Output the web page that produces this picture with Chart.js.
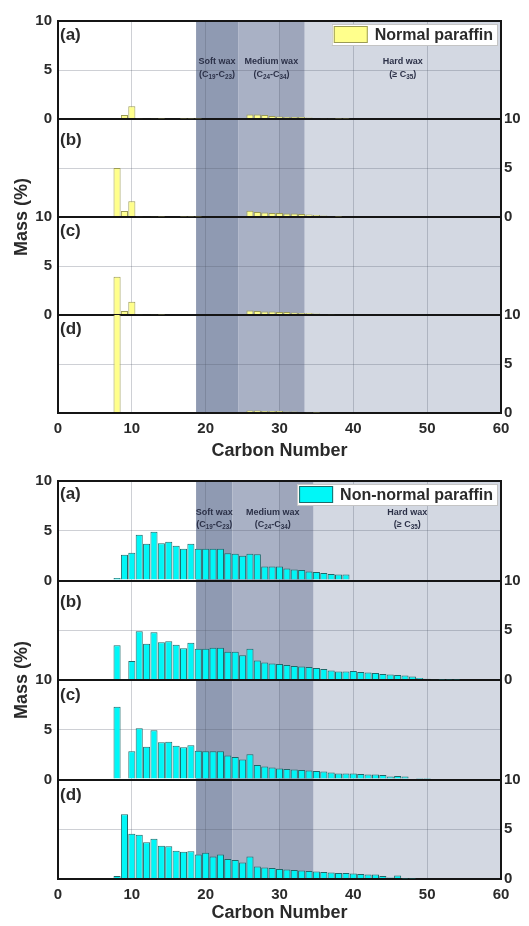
<!DOCTYPE html>
<html lang="en">
<head>
<meta charset="UTF-8">
<title>Normal / non-normal paraffin carbon number distribution</title>
<script src="https://cdn.jsdelivr.net/npm/chart.js"></script>
<style>
    body { margin: 0; background: #fff; }
    canvas { display: block; }
</style>
</head>
<body>
<canvas id="normalChart" width="529" height="463"></canvas>
<canvas id="nonNormalChart" width="529" height="463"></canvas>

<script>
    // carbon numbers, C8 .. C55
    const carbon = [8, 9, 10, 11, 12, 13, 14, 15, 16, 17, 18, 19, 20, 21, 22, 23, 24, 25, 26, 27,
        28, 29, 30, 31, 32, 33, 34, 35, 36, 37, 38, 39, 40, 41, 42, 43, 44, 45, 46, 47,
        48, 49, 50, 51, 52, 53, 54, 55];

    // normal paraffin, mass %, starting at C8
    const normalA = [null, 0.4, 1.3, 0.08, null, 0.08, 0.06, null, null, 0.06, 0.06, 0.05, null, null, null, null, null, null,
        0.45, 0.45, 0.4, 0.3, 0.25, 0.2, 0.2, 0.2, 0.15, 0.1, 0.08, 0.08, 0.05, 0.05];
    const normalB = [5.0, 0.6, 1.6, 0.08, null, 0.08, 0.06, null, null, 0.06, 0.06, 0.05, null, null, null, null, null, null,
        0.65, 0.5, 0.45, 0.4, 0.4, 0.35, 0.35, 0.3, 0.25, 0.2, 0.15, 0.1, 0.05];
    const normalC = [3.9, 0.4, 1.35, 0.08, null, 0.08, 0.06, null, null, null, null, null, null, null, null, null, null, null,
        0.45, 0.4, 0.35, 0.35, 0.3, 0.3, 0.25, 0.2, 0.2, 0.15, 0.1, 0.08];
    const normalD = [10.4, null, null, null, null, null, null, null, null, null, null, null, null, null, null, null, null, null,
        0.25, 0.25, 0.2, 0.2, 0.2, 0.15, 0.15, 0.1, 0.08, 0.05];

    // non-normal paraffin, mass %, starting at C8
    const nonNormalA = [0.25, 2.6, 2.8, 4.6, 3.7, 4.9, 3.75, 3.9, 3.5, 3.2, 3.7, 3.2, 3.2, 3.2, 3.2, 2.75, 2.7, 2.5, 2.7, 2.65,
        1.4, 1.4, 1.4, 1.2, 1.1, 1.05, 0.9, 0.85, 0.75, 0.65, 0.6, 0.6];
    const nonNormalB = [3.5, null, 1.9, 4.9, 3.65, 4.8, 3.8, 3.9, 3.55, 3.2, 3.75, 3.15, 3.15, 3.25, 3.25, 2.85, 2.85, 2.5, 3.15, 1.95,
        1.75, 1.65, 1.6, 1.5, 1.4, 1.35, 1.3, 1.2, 1.1, 0.95, 0.85, 0.85, 0.9, 0.8, 0.75, 0.7, 0.6, 0.55,
        0.5, 0.45, 0.35, 0.2, 0.12, 0.08, 0.06, 0.05, 0.05];
    const nonNormalC = [7.3, null, 2.85, 5.15, 3.3, 4.95, 3.75, 3.8, 3.4, 3.25, 3.45, 2.9, 2.85, 2.85, 2.85, 2.4, 2.25, 2.0, 2.55, 1.45,
        1.3, 1.2, 1.1, 1.05, 1.0, 0.95, 0.9, 0.85, 0.8, 0.7, 0.6, 0.6, 0.6, 0.55, 0.5, 0.5, 0.45, 0.3,
        0.35, 0.3, 0.1, 0.05, 0.05];
    const nonNormalD = [0.3, 6.5, 4.55, 4.45, 3.7, 4.05, 3.35, 3.3, 2.85, 2.75, 2.8, 2.45, 2.65, 2.25, 2.45, 2.0, 1.9, 1.65, 2.25, 1.25,
        1.15, 1.1, 1.0, 0.95, 0.9, 0.85, 0.8, 0.75, 0.7, 0.65, 0.6, 0.6, 0.55, 0.5, 0.45, 0.45, 0.3, 0.15,
        0.35, 0.05, 0.05];

    const panelLabels = ['(a)', '(b)', '(c)', '(d)'];
    const waxNames = ['Soft wax', 'Medium wax', 'Hard wax'];
    const waxRanges = ['(C{19}-C{23})', '(C{24}-C{34})', '(\u2265 C{35})'];
    // soft | medium | hard boundaries (carbon number)
    const normalWaxEdges = [18.7, 24.4, 33.4, 60];
    const nonNormalWaxEdges = [18.7, 23.6, 34.6, 60];

    const family = "'Liberation Sans', Arial, sans-serif";
    Chart.defaults.font.family = family;
    const ink = '#2a2a2a';

    function richText(ctx, str, cx, y, size) {
        const parts = str.split(/(\{[^}]*\})/).filter(Boolean).map(p =>
            p[0] === '{' ? { t: p.slice(1, -1), sub: true } : { t: p, sub: false });
        let w = 0;
        parts.forEach(p => {
            ctx.font = `bold ${p.sub ? size * 0.7 : size}px ${family}`;
            p.w = ctx.measureText(p.t).width;
            w += p.w;
        });
        let x = cx - w / 2;
        parts.forEach(p => {
            ctx.font = `bold ${p.sub ? size * 0.7 : size}px ${family}`;
            ctx.fillText(p.t, x, y + (p.sub ? size * 0.3 : 0));
            x += p.w;
        });
    }

    const paperPlugin = {
        id: 'paper',
        beforeDraw(chart, args, o) {
            const { ctx, chartArea: a, scales: { x } } = chart;
            const e = o.edges;
            const bands = [
                [e[0], e[1], '#8f9ab2'],
                [e[1], e[2], '#a9b1c5'],
                [30, e[2], '#9ea6bb'],
                [e[2], e[3], '#d3d8e2']
            ];
            ctx.save();
            bands.forEach(([from, to, color]) => {
                const x0 = x.getPixelForValue(from), x1 = x.getPixelForValue(to);
                ctx.fillStyle = color;
                ctx.fillRect(x0, a.top, x1 - x0, a.bottom - a.top);
            });
            ctx.restore();
        },
        afterDraw(chart, args, o) {
            const { ctx, chartArea: a, scales } = chart;
            const x = scales.x;
            const e = o.edges;
            ctx.save();
            ctx.fillStyle = ink;
            ctx.textBaseline = 'middle';

            // panel labels
            ctx.textAlign = 'left';
            ctx.font = `bold 17px ${family}`;
            ['ya', 'yb', 'yc', 'yd'].forEach((id, i) => {
                ctx.fillText(panelLabels[i], a.left + 2, scales[id].top + o.labelOffsets[i]);
            });

            // wax class notes in panel (a)
            ctx.fillStyle = '#2c3148';
            waxNames.forEach((name, i) => {
                const cx = x.getPixelForValue((e[i] + e[i + 1]) / 2);
                ctx.textAlign = 'center';
                ctx.font = `bold 9px ${family}`;
                ctx.fillText(name, cx, scales.ya.top + o.noteOffsets[0]);
                ctx.textAlign = 'left';
                richText(ctx, waxRanges[i], cx, scales.ya.top + o.noteOffsets[1], 9);
            });

            // legend box
            const ds = chart.data.datasets[0];
            ctx.font = `bold 16px ${family}`;
            const tw = ctx.measureText(ds.label).width;
            const bw = 2 + 34 + 7 + tw + 4, bh = 21;
            const bx = a.right - 4 - bw, by = a.top + 3;
            ctx.fillStyle = '#fff';
            ctx.fillRect(bx, by, bw, bh);
            ctx.strokeStyle = '#c4c4c4';
            ctx.lineWidth = 1;
            ctx.strokeRect(bx + 0.5, by + 0.5, bw, bh);
            ctx.fillStyle = ds.backgroundColor;
            ctx.fillRect(bx + 2, by + 2, 34, bh - 4);
            ctx.strokeStyle = ds.borderColor;
            ctx.strokeRect(bx + 2.5, by + 2.5, 33, bh - 5);
            ctx.fillStyle = ink;
            ctx.textAlign = 'left';
            ctx.fillText(ds.label, bx + 43, by + bh / 2 + 1);

            // y title
            ctx.translate(22, (a.top + a.bottom) / 2);
            ctx.rotate(-Math.PI / 2);
            ctx.textAlign = 'center';
            ctx.font = `bold 18px ${family}`;
            ctx.fillText('Mass (%)', 0, 0);
            ctx.restore();
        }
    };

    function yAxis(pos, weight, showLabels) {
        const left = pos === 'left';
        return {
            type: 'linear',
            position: pos,
            stack: pos,
            stackWeight: 1,
            weight: weight,
            min: 0,
            max: 10,
            ticks: {
                stepSize: 5,
                display: showLabels,
                padding: left ? 6 : 3,
                color: ink,
                font: { size: 15, weight: 'bold' }
            },
            grid: left ? {
                drawTicks: false,
                color: c => c.tick && c.tick.value === 5 ? 'rgba(80,86,104,0.28)' : '#151515',
                lineWidth: c => c.tick && c.tick.value === 5 ? 1 : 2
            } : { display: false, drawTicks: false },
            border: { display: true, color: '#151515', width: 2 },
            afterFit: s => { s.width = left ? 58 : 28; }
        };
    }

    function buildFigure(id, series, look) {
        const datasets = series.map((vals, i) => ({
            label: look.name,
            yAxisID: 'y' + 'abcd'[i],
            data: vals.map((v, k) => ({ x: carbon[k], y: v })).filter(p => p.y !== null),
            backgroundColor: look.fill,
            borderColor: look.edge,
            borderWidth: 1,
            grouped: false,
            barPercentage: 0.96,
            categoryPercentage: 1
        }));

        return new Chart(document.getElementById(id), {
            type: 'bar',
            data: { datasets },
            options: {
                responsive: false,
                animation: false,
                layout: { padding: { top: look.top, left: 0, right: 0, bottom: 0 } },
                plugins: {
                    legend: { display: false },
                    tooltip: { enabled: false },
                    paper: {
                        edges: look.edges,
                        labelOffsets: look.labelOffsets,
                        noteOffsets: look.noteOffsets
                    }
                },
                scales: {
                    x: {
                        type: 'linear',
                        min: 0,
                        max: 60,
                        offset: false,
                        ticks: { stepSize: 10, padding: 7, color: ink, font: { size: 15, weight: 'bold' } },
                        grid: {
                            offset: false,
                            drawTicks: false,
                            color: c => c.tick && (c.tick.value === 0 || c.tick.value === 60) ? 'rgba(0,0,0,0)' : 'rgba(80,86,104,0.28)'
                        },
                        border: { color: '#151515', width: 2 },
                        title: {
                            display: true,
                            text: 'Carbon Number',
                            color: ink,
                            font: { size: 18, weight: 'bold' },
                            padding: { top: 0, bottom: look.titlePad }
                        },
                        afterFit: s => { s.height = look.xHeight; }
                    },
                    ya: yAxis('left', 4, true),
                    yb: yAxis('left', 3, false),
                    yc: yAxis('left', 2, true),
                    yd: yAxis('left', 1, false),
                    ra: yAxis('right', 1, false),
                    rb: yAxis('right', 2, true),
                    rc: yAxis('right', 3, false),
                    rd: yAxis('right', 4, true)
                }
            },
            plugins: [paperPlugin]
        });
    }

    buildFigure('normalChart', [normalA, normalB, normalC, normalD], {
        name: 'Normal paraffin',
        fill: '#ffff8c',
        edge: '#9b9b55',
        edges: normalWaxEdges,
        top: 21,
        xHeight: 50,
        titlePad: 1,
        labelOffsets: [14, 21, 14, 14],
        noteOffsets: [41, 54]
    });

    buildFigure('nonNormalChart', [nonNormalA, nonNormalB, nonNormalC, nonNormalD], {
        name: 'Non-normal paraffin',
        fill: '#00f7f7',
        edge: '#1d6a6a',
        edges: nonNormalWaxEdges,
        top: 18,
        xHeight: 47,
        titlePad: 2,
        labelOffsets: [13.5, 22, 15, 15.5],
        noteOffsets: [32, 44]
    });
</script>
</body>
</html>
